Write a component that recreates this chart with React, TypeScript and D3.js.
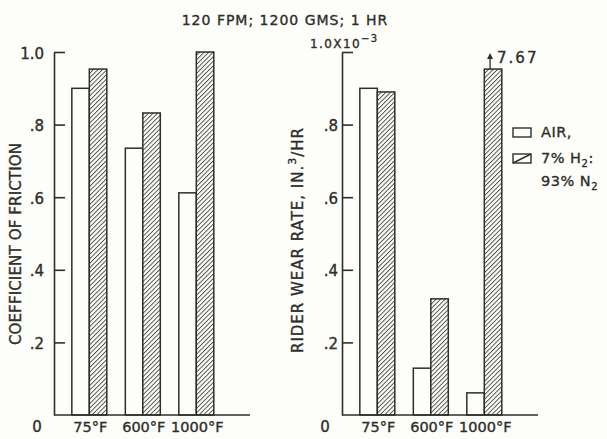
import React, { useEffect, useRef } from 'react'
import * as d3 from 'd3'

// temperatures along both x axes
const categories = ['75°F', '600°F', '1000°F']
const series = ['air', 'h2']

// coefficient of friction (left panel)
const frictionAir = [0.9, 0.735, 0.612]
const frictionH2 = [0.953, 0.832, 1.0]

// rider wear rate, in.^3/hr x 10^-3 (right panel)
const wearAir = [0.9, 0.129, 0.061]
const wearH2 = [0.89, 0.32, 0.953]
const wearOffScale = ['', '', '7.67']

const yTicks = [0.2, 0.4, 0.6, 0.8, 1.0]

const INK = '#2e2e2a'
const PAPER = '#fdfdfa'
const FONT = '"DejaVu Sans", Verdana, sans-serif'

const App: React.FC = () => {
  const svgRef = useRef<SVGSVGElement>(null)

  useEffect(() => {
    if (!svgRef.current) return
    const svg = d3.select(svgRef.current)
    svg.selectAll('*').remove()

    const width = 607
    const height = 439
    const baseY = 415
    const topY = 52
    const axisLen = 196

    svg.attr('width', width).attr('height', height)
      .style('font-family', FONT)

    svg.append('rect').attr('width', width).attr('height', height).attr('fill', PAPER)

    // hatch pattern for the H2/N2 bars
    const defs = svg.append('defs')
    defs.append('pattern')
      .attr('id', 'hatch')
      .attr('patternUnits', 'userSpaceOnUse')
      .attr('width', 3.2)
      .attr('height', 3.2)
      .attr('patternTransform', 'rotate(45)')
      .call(p => p.append('rect').attr('width', 3.2).attr('height', 3.2).attr('fill', PAPER))
      .append('line')
      .attr('x1', 0.5).attr('y1', 0).attr('x2', 0.5).attr('y2', 3.2)
      .attr('stroke', INK).attr('stroke-width', 0.8)

    const y = d3.scaleLinear().domain([0, 1]).range([baseY, topY])

    // slightly heavier lettering, like the hand-lettered original
    const ink = (sel: d3.Selection<SVGTextElement, any, any, any>) =>
      sel.attr('fill', INK).attr('stroke', INK).attr('stroke-width', 0.35)

    const drawPanel = (
      axisX: number,
      airVals: number[],
      h2Vals: number[],
      labelPad: number,
      topLabel: boolean
    ) => {
      const g = svg.append('g')

      const x0 = d3.scaleBand<string>()
        .domain(categories)
        .range([axisX, axisX + axisLen])
        .paddingInner(0.346)
        .paddingOuter(0.505)
        .align(0.33)
      const x1 = d3.scaleBand<string>()
        .domain(series)
        .range([0, x0.bandwidth()])

      const rows = categories.map((c, i) => ({ c, air: airVals[i], h2: h2Vals[i] }))

      // bars
      g.selectAll('.grp')
        .data(rows)
        .enter()
        .append('g')
        .attr('transform', d => `translate(${x0(d.c)},0)`)
        .selectAll('rect')
        .data(d => series.map(s => ({ s, v: s === 'air' ? d.air : d.h2 })))
        .enter()
        .append('rect')
        .attr('x', d => x1(d.s) as number)
        .attr('y', d => y(d.v))
        .attr('width', x1.bandwidth())
        .attr('height', d => baseY - y(d.v))
        .attr('fill', d => d.s === 'air' ? PAPER : 'url(#hatch)')
        .attr('stroke', INK)
        .attr('stroke-width', 1.5)

      // y axis
      const ax = g.append('g')
        .attr('transform', `translate(${axisX},0)`)
        .call(
          d3.axisLeft(y)
            .tickValues(yTicks)
            .tickSizeInner(-11)
            .tickSizeOuter(0)
            .tickPadding(labelPad)
            .tickFormat(d => {
              const v = +d
              if (v === 1) return topLabel ? '1.0' : ''
              return d3.format('.1f')(v).replace(/^0/, '')
            })
        )
      ax.select('.domain').attr('stroke', INK).attr('stroke-width', 1.6)
      ax.selectAll('.tick line').attr('stroke', INK).attr('stroke-width', 1.6)
      ax.selectAll<SVGTextElement, any>('.tick text')
        .attr('font-size', 15)
        .attr('font-family', FONT)
        .attr('dy', '0.4em')
        .call(ink)

      // x axis baseline
      g.append('line')
        .attr('x1', axisX).attr('x2', axisX + axisLen)
        .attr('y1', baseY).attr('y2', baseY)
        .attr('stroke', INK).attr('stroke-width', 1.6)

      // category labels
      g.selectAll('.xl')
        .data(categories)
        .enter()
        .append('text')
        .attr('x', d => (x0(d) as number) + x0.bandwidth() / 2 + 1)
        .attr('y', 432)
        .attr('text-anchor', 'middle')
        .attr('font-size', 14.5)
        .call(ink)
        .text(d => d)

      // zero label
      g.append('text')
        .attr('x', axisX - 17)
        .attr('y', 432)
        .attr('text-anchor', 'middle')
        .attr('font-size', 15)
        .call(ink)
        .text('0')

      return { x0, x1 }
    }

    drawPanel(54, frictionAir, frictionH2, 10, true)
    const right = drawPanel(342, wearAir, wearH2, 4, false)

    // off-scale arrow on the right panel
    categories.forEach((c, i) => {
      if (!wearOffScale[i]) return
      const ax = (right.x0(c) as number) + (right.x1('h2') as number) + right.x1.bandwidth() / 2 - 3
      const top = y(wearH2[i])
      svg.append('line')
        .attr('x1', ax).attr('x2', ax)
        .attr('y1', top).attr('y2', top - 11)
        .attr('stroke', INK).attr('stroke-width', 1.3)
      svg.append('path')
        .attr('d', `M${ax - 3},${top - 10} L${ax + 3},${top - 10} L${ax},${top - 16} Z`)
        .attr('fill', INK)
      svg.append('text')
        .attr('x', ax + 7)
        .attr('y', top - 6)
        .attr('font-size', 15)
        .attr('letter-spacing', 2)
        .call(ink)
        .text(wearOffScale[i])
    })

    // title
    svg.append('text')
      .attr('x', 285)
      .attr('y', 25)
      .attr('text-anchor', 'middle')
      .attr('font-size', 14)
      .attr('letter-spacing', 1)
      .call(ink)
      .text('120 FPM; 1200 GMS; 1 HR')

    // right axis multiplier
    const mult = svg.append('text')
      .attr('x', 310)
      .attr('y', 48)
      .attr('font-size', 12)
      .attr('letter-spacing', 1.4)
      .call(ink)
    mult.append('tspan').text('1.0X10')
    mult.append('tspan').attr('dy', -6).attr('font-size', 10).text('−3')

    // y axis titles
    svg.append('text')
      .attr('transform', 'translate(16,244) rotate(-90)')
      .attr('text-anchor', 'middle')
      .attr('dominant-baseline', 'central')
      .attr('font-size', 15)
      .attr('letter-spacing', 0.15)
      .call(ink)
      .text('COEFFICIENT OF FRICTION')

    const rl = svg.append('text')
      .attr('transform', 'translate(298,240) rotate(-90)')
      .attr('text-anchor', 'middle')
      .attr('dominant-baseline', 'central')
      .attr('font-size', 15)
      .attr('letter-spacing', 1)
      .call(ink)
    rl.append('tspan').text('RIDER WEAR RATE, IN.')
    rl.append('tspan').attr('dy', -6).attr('font-size', 11).text('3')
    rl.append('tspan').attr('dy', 6).text('/HR')

    // legend
    const lg = svg.append('g')
    lg.append('rect')
      .attr('x', 513).attr('y', 128).attr('width', 18).attr('height', 9)
      .attr('fill', 'none').attr('stroke', INK).attr('stroke-width', 1.4)
    lg.append('rect')
      .attr('x', 513).attr('y', 154).attr('width', 18).attr('height', 9)
      .attr('fill', 'none').attr('stroke', INK).attr('stroke-width', 1.4)
    lg.append('line')
      .attr('x1', 513).attr('y1', 163).attr('x2', 531).attr('y2', 154)
      .attr('stroke', INK).attr('stroke-width', 1.4)

    const lt = (yy: number) => lg.append('text')
      .attr('x', 541).attr('y', yy)
      .attr('font-size', 14.5)
      .attr('letter-spacing', 0.5)
      .call(ink)
    lt(137).text('AIR,')
    const h2 = lt(163)
    h2.append('tspan').text('7% H')
    h2.append('tspan').attr('dy', 4).attr('font-size', 10).text('2')
    h2.append('tspan').attr('dy', -4).text(':')
    const n2 = lt(186)
    n2.append('tspan').text('93% N')
    n2.append('tspan').attr('dy', 4).attr('font-size', 10).text('2')
  }, [])

  return (
    <div style={{ position: 'absolute', left: 0, top: 0 }}>
      <svg ref={svgRef}></svg>
    </div>
  )
}

export default App
